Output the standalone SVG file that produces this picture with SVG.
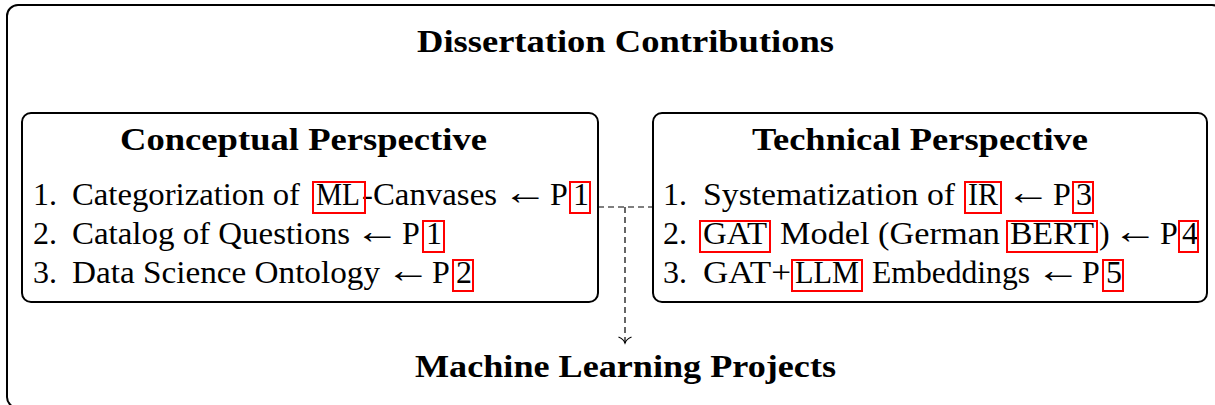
<svg xmlns="http://www.w3.org/2000/svg" width="1215" height="405" viewBox="0 0 1215 405">
  <style>
    .frame { fill: #ffffff; stroke: #000000; stroke-width: 2; }
    .head { font-family: "Liberation Serif", "DejaVu Serif", serif; font-weight: bold; font-size: 32px; fill: #000000; text-anchor: middle; }
    .item { font-family: "Liberation Serif", "DejaVu Serif", serif; font-size: 32px; fill: #000000; }
    .arr { font-family: "Liberation Serif", "DejaVu Serif", serif; font-size: 36px; fill: #000000; }
    .ref { fill: none; stroke: #ff0000; stroke-width: 2; }
    .link { fill: none; stroke: #000000; stroke-width: 1.2; stroke-dasharray: 6 4; }
  </style>
  <defs>
    <marker id="to" viewBox="0 0 16 16" refX="14" refY="8" markerWidth="16" markerHeight="16" markerUnits="userSpaceOnUse" orient="auto">
      <path d="M8,1.5 Q10,6.5 14,8 Q10,9.5 8,14.5" fill="none" stroke="#000000" stroke-width="1.3"/>
    </marker>
  </defs>

  <rect width="1215" height="405" fill="#ffffff"/>

  <!-- outer container -->
  <g id="contributions">
    <rect class="frame" x="7" y="5" width="1216" height="403" rx="11"/>
    <text class="head" x="625.5" y="52" textLength="417" lengthAdjust="spacingAndGlyphs">Dissertation Contributions</text>
  </g>

  <!-- connectors -->
  <g id="connectors">
    <path class="link" d="M598,207 H653"/>
    <path class="link" d="M625,207 V343" marker-end="url(#to)"/>
  </g>

  <!-- conceptual perspective -->
  <g id="conceptual">
    <rect class="frame" x="22" y="113" width="576" height="189" rx="9"/>
    <text class="head" x="303.5" y="150" textLength="367" lengthAdjust="spacingAndGlyphs">Conceptual Perspective</text>

    <text class="item" x="33" y="205">1.</text>
    <text class="item" x="72" y="205" textLength="228" lengthAdjust="spacingAndGlyphs">Categorization of</text>
    <text class="item" x="316" y="205" textLength="44" lengthAdjust="spacingAndGlyphs">ML</text>
    <text class="item" x="362" y="205" textLength="135" lengthAdjust="spacingAndGlyphs">-Canvases</text>
    <text class="arr" transform="translate(503,204) scale(1.25,1)">←</text>
    <text class="item" x="550" y="205">P</text>
    <text class="item" x="573" y="205">1</text>
    <rect class="ref" x="313" y="182" width="52" height="31"/>
    <rect class="ref" x="570" y="182" width="20" height="31"/>

    <text class="item" x="33" y="244">2.</text>
    <text class="item" x="72" y="244" textLength="278" lengthAdjust="spacingAndGlyphs">Catalog of Questions</text>
    <text class="arr" transform="translate(355,243) scale(1.25,1)">←</text>
    <text class="item" x="402" y="244">P</text>
    <text class="item" x="426" y="244">1</text>
    <rect class="ref" x="423" y="221" width="21" height="31"/>

    <text class="item" x="33" y="283">3.</text>
    <text class="item" x="72" y="283" textLength="308" lengthAdjust="spacingAndGlyphs">Data Science Ontology</text>
    <text class="arr" transform="translate(386,282) scale(1.25,1)">←</text>
    <text class="item" x="432" y="283">P</text>
    <text class="item" x="456" y="283">2</text>
    <rect class="ref" x="453" y="260" width="20" height="31"/>
  </g>

  <!-- technical perspective -->
  <g id="technical">
    <rect class="frame" x="653" y="113" width="554" height="189" rx="9"/>
    <text class="head" x="920" y="150" textLength="336" lengthAdjust="spacingAndGlyphs">Technical Perspective</text>

    <text class="item" x="663" y="205">1.</text>
    <text class="item" x="703" y="205" textLength="252" lengthAdjust="spacingAndGlyphs">Systematization of</text>
    <text class="item" x="968" y="205" textLength="30" lengthAdjust="spacingAndGlyphs">IR</text>
    <text class="arr" transform="translate(1006,204) scale(1.25,1)">←</text>
    <text class="item" x="1053" y="205">P</text>
    <text class="item" x="1076" y="205">3</text>
    <rect class="ref" x="965" y="182" width="36" height="31"/>
    <rect class="ref" x="1073" y="182" width="20" height="31"/>

    <text class="item" x="663" y="244">2.</text>
    <text class="item" x="703" y="244" textLength="64" lengthAdjust="spacingAndGlyphs">GAT</text>
    <text class="item" x="780" y="244" textLength="220" lengthAdjust="spacingAndGlyphs">Model (German</text>
    <text class="item" x="1010" y="244" textLength="84" lengthAdjust="spacingAndGlyphs">BERT</text>
    <text class="item" x="1099" y="244">)</text>
    <text class="arr" transform="translate(1113,243) scale(1.25,1)">←</text>
    <text class="item" x="1160" y="244">P</text>
    <text class="item" x="1182" y="244">4</text>
    <rect class="ref" x="700" y="221" width="70" height="31"/>
    <rect class="ref" x="1007" y="221" width="90" height="31"/>
    <rect class="ref" x="1179" y="221" width="19" height="31"/>

    <text class="item" x="663" y="283">3.</text>
    <text class="item" x="703" y="283" textLength="88" lengthAdjust="spacingAndGlyphs">GAT+</text>
    <text class="item" x="795" y="283" textLength="64" lengthAdjust="spacingAndGlyphs">LLM</text>
    <text class="item" x="872" y="283" textLength="158" lengthAdjust="spacingAndGlyphs">Embeddings</text>
    <text class="arr" transform="translate(1036,282) scale(1.25,1)">←</text>
    <text class="item" x="1082" y="283">P</text>
    <text class="item" x="1106" y="283">5</text>
    <rect class="ref" x="792" y="260" width="70" height="31"/>
    <rect class="ref" x="1103" y="260" width="20" height="31"/>
  </g>

  <!-- target node -->
  <g id="ml-projects">
    <text class="head" x="625.5" y="377" textLength="421" lengthAdjust="spacingAndGlyphs">Machine Learning Projects</text>
  </g>
</svg>
